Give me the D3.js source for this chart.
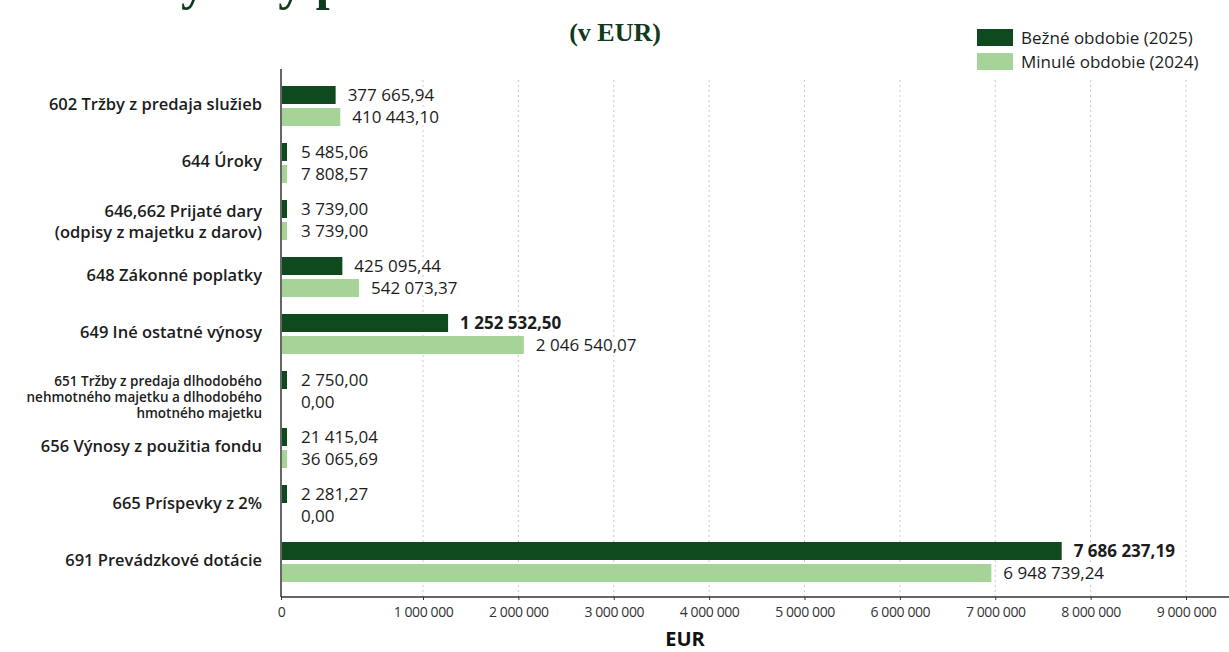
<!DOCTYPE html>
<html>
<head>
<meta charset="utf-8">
<style>
body { margin: 0; background: #fff; }
svg { display: block; }
.title { font-family: "Liberation Serif", "DejaVu Serif", serif; font-weight: bold; fill: #0f3a1b; }
.cat { font-family: "Open Sans", "Noto Sans", sans-serif; font-weight: 600; fill: #1c1c1c; }
.val { font-family: "Open Sans", "Noto Sans", sans-serif; font-size: 17px; fill: #1c1c1c;
       stroke: #fff; stroke-width: 5px; paint-order: stroke; stroke-linejoin: round; }
.grid line { stroke: #c9c9c9; stroke-dasharray: 2,3; }
.xaxis text { font-family: "Open Sans", "Noto Sans", sans-serif; font-size: 14px; fill: #333; letter-spacing: -0.4px; }
.xaxis line { stroke: #333; }
.legend text { font-family: "Open Sans", "Noto Sans", sans-serif; font-size: 17px; fill: #1c1c1c; }
</style>
</head>
<body>
<svg width="1229" height="652"></svg>
<script src="https://cdn.jsdelivr.net/npm/d3@7"></script>
<script>
// data
var categories = [
  "602 Tržby z predaja služieb",
  "644 Úroky",
  "646,662 Prijaté dary\n(odpisy z majetku z darov)",
  "648 Zákonné poplatky",
  "649 Iné ostatné výnosy",
  "651 Tržby z predaja dlhodobého\nnehmotného majetku a dlhodobého\nhmotného majetku",
  "656 Výnosy z použitia fondu",
  "665 Príspevky z 2%",
  "691 Prevádzkové dotácie"
];
var current2025 = [377665.94, 5485.06, 3739.00, 425095.44, 1252532.50, 2750.00, 21415.04, 2281.27, 7686237.19];
var previous2024 = [410443.10, 7808.57, 3739.00, 542073.37, 2046540.07, 0.00, 36065.69, 0.00, 6948739.24];
var seriesNames = ["Bežné obdobie (2025)", "Minulé obdobie (2024)"];
var tickValues = [0, 1000000, 2000000, 3000000, 4000000, 5000000, 6000000, 7000000, 8000000, 9000000];

var svg = d3.select("svg"),
    width = +svg.attr("width"),
    height = +svg.attr("height");

var colors = ["#0f4a1f", "#a5d398"];

// slovak number format: space thousands, comma decimals
var sk = d3.formatLocale({ decimal: ",", thousands: " ", grouping: [3], currency: ["", " €"] });
var fmtVal = sk.format(",.2f"),
    fmtTick = sk.format(",");

// the axis in the picture has a wider first step (0 -> 1 000 000)
var x = d3.scaleLinear().domain([0, 1000000, 9000000]).range([281, 423, 1186]);
var y = d3.scaleBand().domain(categories).range([77.5, 590.5]);
var x0 = x(0);

// title (cut off at the top in the original)
svg.append("text").attr("class", "title")
  .attr("x", 145).attr("y", -1).attr("font-size", 50)
  .text("Výnosy podľa druhov");
svg.append("text").attr("class", "title")
  .attr("x", 615).attr("y", 41).attr("font-size", 26)
  .attr("text-anchor", "middle")
  .text("(v EUR)");

// grid
svg.append("g").attr("class", "grid")
  .selectAll("line")
  .data(tickValues.slice(1))
  .enter().append("line")
  .attr("x1", function(d) { return x(d); })
  .attr("x2", function(d) { return x(d); })
  .attr("y1", 80).attr("y2", 597);

// x axis
var xAxis = svg.append("g").attr("class", "xaxis")
  .attr("transform", "translate(0,597)")
  .call(d3.axisBottom(x).tickValues(tickValues).tickSize(3).tickFormat(fmtTick));
xAxis.select(".domain").remove();
xAxis.selectAll("text").attr("y", 10);
svg.append("line")
  .attr("x1", x0).attr("x2", width)
  .attr("y1", 597).attr("y2", 597)
  .attr("stroke", "#333").attr("stroke-width", 1.5);
svg.append("line")
  .attr("x1", x0).attr("x2", x0)
  .attr("y1", 69).attr("y2", 597)
  .attr("stroke", "#333").attr("stroke-width", 1.5);

svg.append("text")
  .attr("x", 685).attr("y", 646)
  .attr("text-anchor", "middle")
  .attr("font-family", "Open Sans, sans-serif")
  .attr("font-weight", "bold").attr("font-size", 20)
  .attr("fill", "#111")
  .text("EUR");

// bars
var rows = categories.map(function(c, i) {
  return { cat: c, vals: [current2025[i], previous2024[i]] };
});

var group = svg.append("g").selectAll("g")
  .data(rows)
  .enter().append("g")
  .attr("transform", function(d) { return "translate(0," + (y(d.cat) + y.bandwidth() / 2) + ")"; });

function barW(v) {
  if (v <= 0) return 0;
  return Math.max(x(v) - x0, 5);
}

group.selectAll("rect")
  .data(function(d) { return d.vals; })
  .enter().append("rect")
  .attr("x", x0 + 1)
  .attr("y", function(d, i) { return i == 0 ? -20 : 2; })
  .attr("height", 18)
  .attr("width", function(d) { return barW(d); })
  .attr("fill", function(d, i) { return colors[i]; });

group.selectAll("text.val")
  .data(function(d) { return d.vals; })
  .enter().append("text")
  .attr("class", "val")
  .attr("x", function(d) { return x0 + Math.max(barW(d), 7) + 13; })
  .attr("y", function(d, i) { return i == 0 ? -11 : 11; })
  .attr("dy", "0.35em")
  .attr("font-weight", function(d, i) { return (i == 0 && d >= 1000000) ? "bold" : "normal"; })
  .text(function(d) { return fmtVal(d); });

// category labels
group.each(function(d) {
  var lines = d.cat.split("\n");
  var small = lines.length > 2;
  var fs = small ? 13.5 : 16.5, lh = small ? 16 : 21;
  var t = d3.select(this).append("text")
    .attr("class", "cat")
    .attr("text-anchor", "end")
    .attr("font-size", fs);
  var top = (lines.length - 1) * 4 - 2 - (lines.length - 1) * lh / 2;
  lines.forEach(function(l, k) {
    t.append("tspan")
      .attr("x", 262)
      .attr("y", top + k * lh)
      .attr("dy", "0.35em")
      .text(l);
  });
});

// legend
var legend = svg.append("g").attr("class", "legend")
  .selectAll("g")
  .data(seriesNames)
  .enter().append("g")
  .attr("transform", function(d, i) { return "translate(977," + (29 + i * 24) + ")"; });
legend.append("rect")
  .attr("width", 36).attr("height", 17)
  .attr("fill", function(d, i) { return colors[i]; });
legend.append("text")
  .attr("x", 44).attr("y", 9).attr("dy", "0.35em")
  .text(function(d) { return d; });
</script>
</body>
</html>
